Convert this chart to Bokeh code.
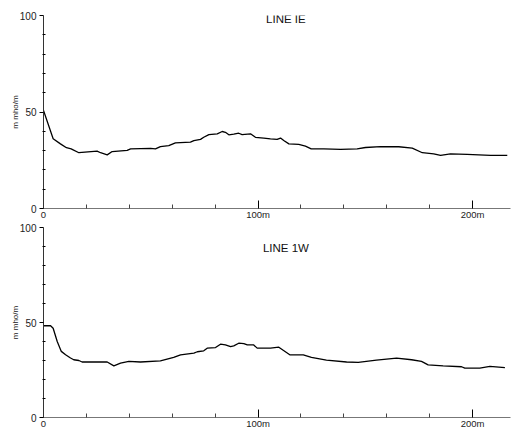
from bokeh.plotting import figure
from bokeh.layouts import column
from bokeh.models import FixedTicker, Label, Range1d
from bokeh.embed import file_html
from bokeh.resources import INLINE

# ---- data ----
dist_1e = [0, 4.5, 7.9, 10.7, 12.9, 16.5, 25.0, 26.6, 29.7, 32.0, 39.0, 40.6, 49.9, 52.2,
           54.5, 58.4, 61.5, 68.5, 70.1, 73.2, 74.7, 77.1, 81.0, 83.3, 84.8, 86.4, 88.7,
           91.0, 92.6, 96.5, 98.8, 102.7, 105.8, 108.9, 110.5, 112.0, 114.4, 119.0, 122.1,
           124.8, 130.7, 138.5, 146.2, 150.1, 157.1, 165.6, 171.9, 176.6, 181.9, 185.1,
           189.7, 197.5, 208.4, 216.2]
cond_1e = [50.8, 36.1, 33.5, 31.5, 30.9, 28.9, 29.7, 28.9, 27.8, 29.5, 30.1, 30.9, 31.2, 30.9,
           32.1, 32.6, 34.0, 34.4, 35.2, 35.8, 36.9, 38.3, 38.7, 39.9, 39.5, 38.2, 38.5,
           39.0, 38.3, 38.7, 36.9, 36.5, 36.1, 35.8, 36.5, 35.2, 33.5, 33.2, 32.3,
           30.9, 30.9, 30.6, 30.9, 31.6, 32.1, 32.0, 31.3, 28.9, 28.3, 27.5,
           28.3, 28.0, 27.5, 27.5]

dist_1w = [0, 3.3, 4.5, 6.4, 8.3, 10.3, 12.6, 14.1, 16.5, 18.0, 29.7, 32.8, 35.9, 39.8, 45.2,
           54.5, 60.7, 63.9, 70.1, 71.7, 74.7, 76.3, 80.2, 82.5, 84.8, 87.2, 88.7, 91.0,
           93.4, 95.0, 98.0, 99.6, 105.8, 109.7, 114.8, 121.1, 124.9, 131.9, 141.3, 146.7,
           155.2, 164.6, 171.6, 176.2, 179.3, 186.3, 194.9, 196.4, 203.4, 208.1, 215.1]
cond_1w = [48.3, 48.3, 47.0, 40.0, 34.8, 33.0, 31.3, 30.4, 30.0, 29.2, 29.2, 27.2, 28.6, 29.5, 29.2,
           29.8, 31.6, 33.0, 33.9, 34.6, 35.1, 36.5, 36.8, 38.6, 38.2, 37.3, 37.7, 39.1,
           38.9, 38.2, 38.2, 36.5, 36.5, 37.0, 33.0, 33.0, 31.6, 30.2, 29.2, 29.0,
           30.2, 31.2, 30.4, 29.5, 27.7, 27.2, 26.7, 26.0, 26.0, 26.9, 26.3]

titles = ["LINE IE", "LINE 1W"]
y_label = "m mho/m"
x_major = [0, 100, 200]
x_minor = [20, 40, 60, 80, 120, 140, 160, 180]
x_labels = {0: "0", 100: "100m", 200: "200m"}
y_major = [0, 50, 100]
y_minor = [10, 20, 30, 40, 60, 70, 80, 90]

FONT = "Liberation Sans"


def make_panel(dist, cond, title, height, top, bottom, title_y):
    p = figure(width=512, height=height, output_backend="svg", toolbar_location=None,
               x_range=Range1d(0, 217.7), y_range=Range1d(0, 100),
               min_border_left=43, min_border_right=2,
               min_border_top=top, min_border_bottom=bottom)
    p.outline_line_color = None
    p.grid.visible = False
    p.background_fill_color = "white"
    p.border_fill_color = "white"

    p.line(dist, cond, line_color="black", line_width=1.3)

    xa = p.xaxis[0]
    xa.ticker = FixedTicker(ticks=x_major, minor_ticks=x_minor)
    xa.major_label_overrides = x_labels
    xa.major_tick_in = 8
    xa.major_tick_out = 0
    xa.minor_tick_in = 4
    xa.minor_tick_out = 0
    xa.major_label_standoff = 0
    xa.axis_line_color = "#777777"
    xa.major_tick_line_color = "black"
    xa.minor_tick_line_color = "#444444"
    xa.major_label_text_font = FONT
    xa.major_label_text_font_size = "9.5px"
    xa.major_label_text_line_height = 1.0
    xa.major_label_text_color = "#222222"

    ya = p.yaxis[0]
    ya.ticker = FixedTicker(ticks=y_major, minor_ticks=y_minor)
    ya.major_tick_in = 0
    ya.major_tick_out = 4
    ya.minor_tick_in = 2
    ya.minor_tick_out = 1
    ya.major_label_standoff = 3
    ya.axis_line_color = "#333333"
    ya.major_label_text_font = FONT
    ya.major_label_text_font_size = "10px"
    ya.major_label_text_color = "#222222"
    ya.axis_label = y_label
    ya.axis_label_text_font = FONT
    ya.axis_label_text_font_size = "8px"
    ya.axis_label_text_font_style = "normal"
    ya.axis_label_standoff = -3
    ya.axis_label_text_color = "#222222"

    p.add_layout(Label(x=113, y=title_y, text=title, text_align="center",
                       text_baseline="middle", text_font=FONT,
                       text_font_size="11.5px", text_color="#111111"))
    return p


p1 = make_panel(dist_1e, cond_1e, titles[0], 222, 15, 14, 98)
p2 = make_panel(dist_1w, cond_1w, titles[1], 209, 5, 13, 89)

layout = column(p1, p2, spacing=0)
open("out.html", "w").write(file_html(layout, INLINE))
